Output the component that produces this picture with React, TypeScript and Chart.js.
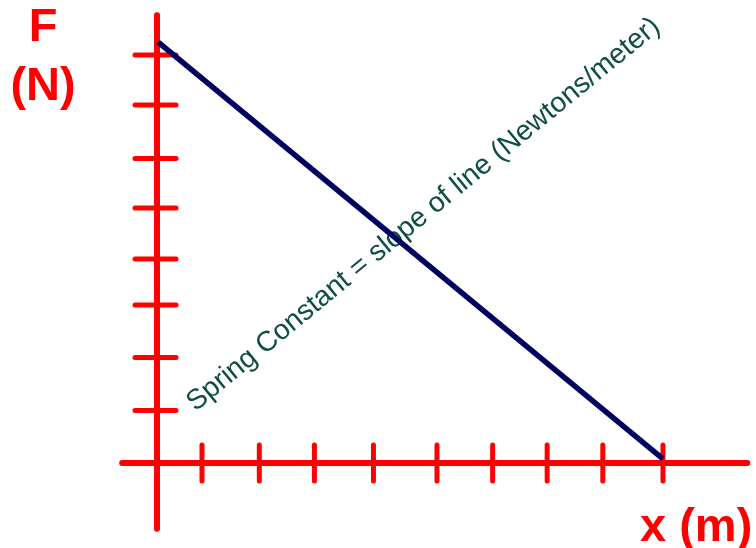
import React, { useEffect, useRef } from 'react';
import { Chart, registerables } from 'chart.js';

Chart.register(...registerables);

// ---- data ----
const forceLabelLines = ['F', '(N)'];
const extensionLabel = 'x (m)';
const annotationText = 'Spring Constant = slope of line (Newtons/meter)';

// extension axis tick positions (hand-drawn, uneven)
const xTickValues = [0.8, 1.82, 2.8, 3.85, 4.98, 5.97, 6.94, 7.93, 9.0];
// force axis tick positions (hand-drawn, uneven)
const yTickValues = [0, 1.03, 2.07, 3.1, 4.0, 5.0, 5.97, 7.02, 8.0];
// the force–extension line
const lineX = [0.02, 9.0];
const lineF = [8.25, 0.08];
// drawn extent of the two axes
const xAxisExtent = [-0.62, 10.5];
const yAxisExtent = [-1.29, 8.78];
// where the rotated annotation sits (data units)
const annotationAnchor = [4.74, 4.87];

const FONT = '"Liberation Sans", Arial, Helvetica, sans-serif';
const RED = '#ff0000';

const sketchPlugin = {
  id: 'sketchAxes',
  beforeDatasetsDraw(chart: any) {
    const { ctx, scales } = chart;
    const xs = scales.x;
    const ys = scales.y;
    const x0 = xs.getPixelForValue(0);
    const y0 = ys.getPixelForValue(0);
    const seg = (a: number, b: number, c: number, d: number) => {
      ctx.beginPath();
      ctx.moveTo(a, b);
      ctx.lineTo(c, d);
      ctx.stroke();
    };
    ctx.save();
    ctx.strokeStyle = RED;
    ctx.lineCap = 'round';
    ctx.lineWidth = 5;
    yTickValues.forEach((v) => {
      const py = ys.getPixelForValue(v);
      seg(x0 - 22, py, x0 + 19, py);
    });
    xTickValues.forEach((v) => {
      const px = xs.getPixelForValue(v);
      seg(px, y0 - 18, px, y0 + 18);
    });
    ctx.lineWidth = 6;
    seg(xs.getPixelForValue(xAxisExtent[0]), y0, xs.getPixelForValue(xAxisExtent[1]), y0);
    seg(x0, ys.getPixelForValue(yAxisExtent[1]), x0, ys.getPixelForValue(yAxisExtent[0]));

    // axis labels
    ctx.fillStyle = RED;
    ctx.font = `bold 47px ${FONT}`;
    ctx.textAlign = 'center';
    ctx.textBaseline = 'alphabetic';
    ctx.fillText(forceLabelLines[0], 43, 41);
    ctx.fillText(forceLabelLines[1], 43, 100);
    ctx.textAlign = 'left';
    ctx.fillText(extensionLabel, 640, 541);

    // rotated annotation
    ctx.translate(xs.getPixelForValue(annotationAnchor[0]), ys.getPixelForValue(annotationAnchor[1]));
    ctx.rotate((-39.4 * Math.PI) / 180);
    ctx.fillStyle = '#0d4d44';
    ctx.font = `28.3px ${FONT}`;
    ctx.textAlign = 'center';
    ctx.textBaseline = 'middle';
    ctx.fillText(annotationText, 0, 0);
    ctx.restore();
  },
};

export default function App() {
  const canvasRef = useRef<HTMLCanvasElement | null>(null);

  useEffect(() => {
    const canvas = canvasRef.current;
    if (!canvas) return;
    const chart = new Chart(canvas, {
      type: 'line',
      data: {
        datasets: [
          {
            data: lineX.map((x, i) => ({ x, y: lineF[i] })),
            borderColor: '#000060',
            borderWidth: 5.5,
            pointRadius: 0,
            fill: false,
            tension: 0,
          },
        ],
      },
      options: {
        animation: false,
        responsive: false,
        devicePixelRatio: 1,
        layout: { padding: 0 },
        plugins: { legend: { display: false }, tooltip: { enabled: false } },
        scales: {
          x: { type: 'linear', display: false, min: -2.793, max: 10.655 },
          y: { type: 'linear', display: false, min: -1.667, max: 9.078 },
        },
      },
      plugins: [sketchPlugin],
    } as any);
    return () => chart.destroy();
  }, []);

  return (
    <div style={{ position: 'fixed', left: 0, top: 0, width: 756, height: 548, background: '#fff' }}>
      <canvas ref={canvasRef} width={756} height={548} style={{ display: 'block' }} />
    </div>
  );
}
